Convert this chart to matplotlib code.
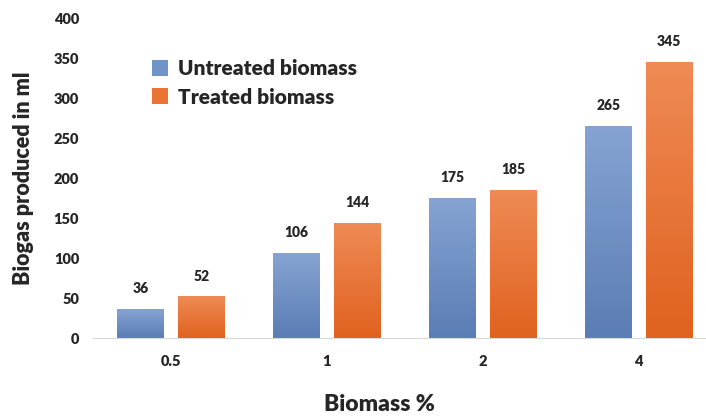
import numpy as np
import matplotlib
matplotlib.use('Agg')
import matplotlib.pyplot as plt
from matplotlib.colors import LinearSegmentedColormap

plt.rcParams['font.family'] = ['Lato', 'DejaVu Sans']

categories = ['0.5', '1', '2', '4']
untreated = [36, 106, 175, 265]
treated = [52, 144, 185, 345]
yticks = [0, 50, 100, 150, 200, 250, 300, 350, 400]

TEXT = '#262626'
blue_map = LinearSegmentedColormap.from_list('blue', ['#5b7db5', '#86a3d2'])
orange_map = LinearSegmentedColormap.from_list('orange', ['#e0621f', '#ef8b55'])


def gradient_fill(ax, bars, cmap):
    # replace the flat fill of each bar with a vertical gradient
    grad = np.linspace(0, 1, 256).reshape(-1, 1)
    for b in bars:
        x0, y0 = b.get_x(), b.get_y()
        x1, y1 = x0 + b.get_width(), y0 + b.get_height()
        b.set_facecolor('none')
        im = ax.imshow(grad, cmap=cmap, origin='lower', aspect='auto',
                       extent=[x0, x1, y0, y1], zorder=2)
        im.set_clip_path(b)


fig = plt.figure(figsize=(7.06, 4.17), dpi=100)
ax = fig.add_axes([0.1317, 0.1894, 0.868, 0.7674])

x = np.arange(len(categories))
w = 0.30
off = 0.195
b1 = ax.bar(x - off, untreated, w, color='#7094c8', edgecolor='none',
            label='Untreated biomass', zorder=2)
b2 = ax.bar(x + off, treated, w, color='#ea7432', edgecolor='none',
            label='Treated biomass', zorder=2)
gradient_fill(ax, b1, blue_map)
gradient_fill(ax, b2, orange_map)

for bars, vals in ((b1, untreated), (b2, treated)):
    for b, v in zip(bars, vals):
        ax.annotate(str(v), (b.get_x() + b.get_width() / 2, v),
                    xytext=(0, 10), textcoords='offset points',
                    ha='center', va='bottom', fontsize=10,
                    fontweight='heavy', color=TEXT)

ax.set_xlim(-0.5, 3.43)
ax.set_ylim(0, 400)
ax.set_xticks(x)
ax.set_xticklabels(categories)
ax.set_yticks(yticks)
ax.tick_params(length=0, labelsize=10.5, labelcolor=TEXT)
ax.tick_params(axis='x', pad=12)
ax.tick_params(axis='y', pad=10)
for t in ax.get_xticklabels() + ax.get_yticklabels():
    t.set_fontweight('heavy')

for s in ('top', 'right', 'left'):
    ax.spines[s].set_visible(False)
ax.spines['bottom'].set_color('#d9d9d9')

ax.set_ylabel('Biogas produced in ml', fontsize=15.5, fontweight='heavy',
              color=TEXT, labelpad=14)
fig.text(0.538, 0.005, 'Biomass %', ha='center', va='bottom', fontsize=16.5,
         fontweight='heavy', color=TEXT)

leg = ax.legend(loc='upper left', bbox_to_anchor=(0.065, 0.93), frameon=False,
                fontsize=15, handlelength=0.8, handleheight=0.8,
                handletextpad=0.45, labelspacing=0.45)
for t in leg.get_texts():
    t.set_fontweight('heavy')
    t.set_color(TEXT)
leg.legend_handles[0].set_facecolor('#7094c8')
leg.legend_handles[1].set_facecolor('#ea7432')

fig.savefig('out.png', dpi=100)
